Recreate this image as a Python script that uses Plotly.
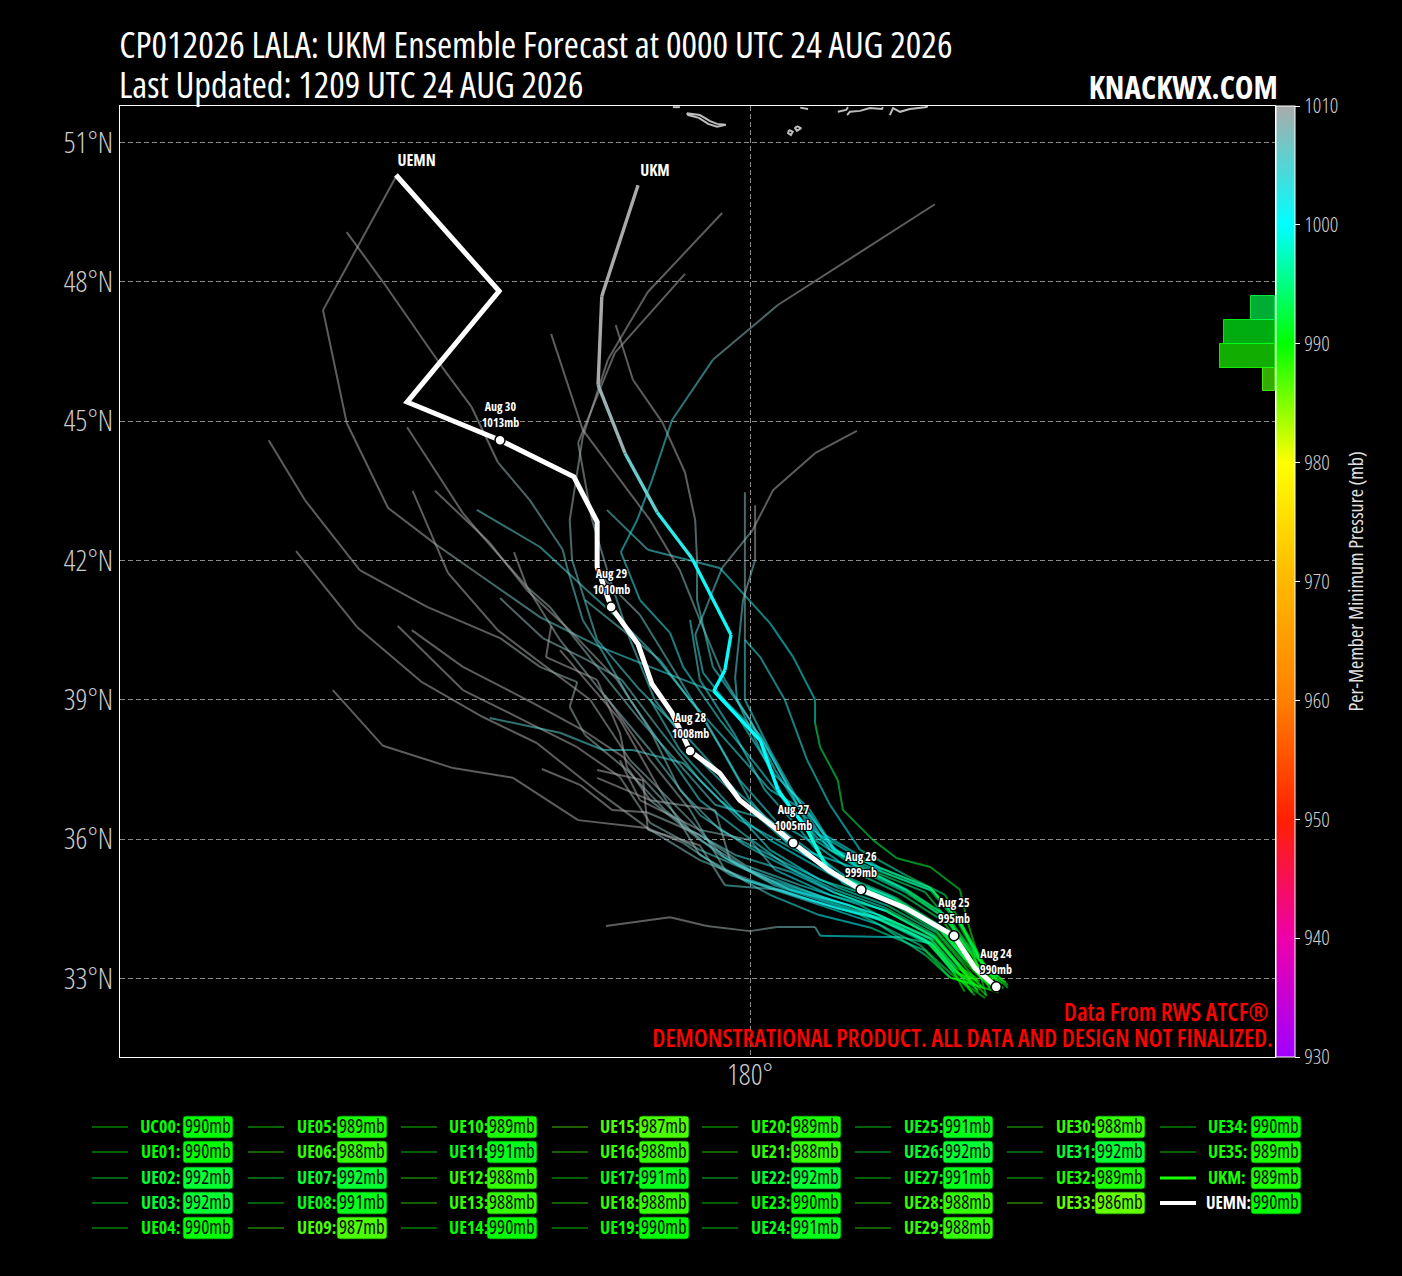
import re
import numpy as np
import plotly.graph_objects as go
from plotly.colors import sample_colorscale

FONT = "Open Sans"
W, H = 1402, 1276
L, R, T, B = 120, 1275, 106, 1057
LON_RANGE = [166.44, 191.30]
LAT_RANGE = [31.31, 51.785]

LAT_TICKS = [33, 36, 39, 42, 45, 48, 51]
LAT_TEXT = ["33°N", "36°N", "39°N", "42°N", "45°N", "48°N", "51°N"]
LON_TICKS = [180]
LON_TEXT = ["180°"]
CBAR_TICKS = [930, 940, 950, 960, 970, 980, 990, 1000, 1010]
MB_MIN, MB_MAX = 930, 1010
COLORS = ["#a000ff", "#ee00aa", "#ff2000", "#ff8000", "#ffb800", "#ffff00", "#00ff00", "#00ffff", "#aaaaaa"]

NAMES = ["UC00"] + [f"UE{i:02d}" for i in range(1, 36)]
MIN_MB = [990, 990, 992, 992, 990, 989, 988, 992, 991, 987, 989, 991, 988, 988, 990, 987, 988, 991,
          988, 990, 989, 988, 992, 990, 991, 991, 992, 991, 988, 988, 988, 992, 989, 986, 990, 989]

# each track: (lon, lat, mb), from the last forecast point back to the first
UC00 = [(172.40,50.30,1012),(170.81,47.39,1011),(171.32,44.96,1011),(172.21,43.13,1010),(173.26,42.33,1010),(174.25,41.64,1008),(175.48,40.78,1006),(176.77,40.14,1004),(177.85,39.71,1004),(179.29,39.15,1003),(180.22,38.24,1003),(180.86,37.06,1002),(181.40,35.98,1001),(182.26,35.42,998),(183.34,34.90,995),(184.20,34.30,993),(184.78,33.51,992),(185.17,32.80,990)]
UE01 = [(171.32,49.07,1012),(172.10,48.00,1012),(173.37,46.17,1011),(174.01,45.30,1010),(174.57,44.12,1009),(175.26,43.30,1008),(175.97,42.23,1006),(176.06,41.86,1006),(176.40,40.72,1005),(176.84,40.01,1005),(177.42,39.00,1004),(178.17,37.92,1004),(178.92,36.84,1004),(179.89,36.09,1003),(180.86,35.38,1002),(181.83,34.91,1000),(182.91,34.52,997),(183.98,33.94,994),(184.52,33.29,992),(184.91,32.71,990)]
UE02 = [(169.64,44.59,1012),(170.42,43.30,1012),(171.60,41.79,1011),(173.05,41.00,1010),(174.62,40.33,1010),(175.48,39.71,1009),(176.28,39.38,1009),(176.12,38.85,1009),(176.45,38.24,1009),(177.35,37.49,1009),(178.17,36.63,1008),(179.35,35.66,1005),(180.43,35.08,1002),(181.61,34.69,1000),(182.80,34.30,998),(183.88,33.79,995),(184.41,33.18,993),(184.84,32.86,992)]
UE03 = [(172.62,44.87,1012),(173.82,43.02,1011),(174.25,42.51,1010),(175.20,41.43,1009),(175.69,41.00,1009),(176.77,39.64,1008),(177.63,38.57,1007),(178.49,37.60,1006),(179.25,36.74,1005),(180.43,36.41,1003),(181.18,35.66,1001),(182.05,35.12,999),(183.12,34.69,996),(184.09,34.09,994),(184.63,33.44,993),(185.06,32.92,992)]
UE04 = [(172.74,43.50,1012),(173.22,42.38,1011),(173.50,41.73,1011),(174.57,40.50,1011),(175.41,39.86,1010),(176.56,39.00,1010),(177.42,37.70,1009),(178.71,36.41,1008),(179.45,35.60,1006),(180.50,35.02,1003),(181.70,34.62,1001),(182.85,34.25,998),(183.95,33.72,995),(184.48,33.12,992),(184.95,32.80,990)]
UE05 = [(173.22,43.50,1012),(174.40,42.38,1011),(175.20,41.36,1010),(176.12,40.50,1010),(177.14,39.43,1009),(177.85,38.35,1008),(178.49,37.06,1007),(179.35,36.20,1005),(180.86,35.44,1002),(181.90,34.95,1000),(182.98,34.56,997),(184.02,33.98,994),(184.58,33.32,991),(185.02,32.78,989)]
UE06 = [(174.12,43.09,1006),(175.48,42.29,1005),(176.49,41.36,1005),(177.20,40.72,1004),(177.85,40.07,1004),(178.71,39.00,1003),(179.57,38.03,1003),(180.43,37.06,1002),(181.29,36.55,1002),(181.83,35.72,1000),(182.80,35.30,997),(183.88,34.90,995),(184.48,34.20,992),(184.95,33.35,990),(185.50,32.92,988)]
UE07 = [(170.23,42.20,1012),(171.54,40.57,1012),(172.94,39.38,1011),(174.25,38.63,1011),(175.41,38.07,1010),(176.77,36.99,1010),(177.85,36.20,1009),(178.92,35.55,1007),(180.00,35.12,1005),(181.29,34.69,1002),(182.80,34.26,998),(183.77,33.83,995),(184.41,33.14,993),(184.91,32.75,992)]
UE08 = [(172.42,40.59,1012),(173.82,39.21,1011),(175.11,38.57,1011),(176.28,37.98,1010),(177.20,37.34,1010),(177.85,36.35,1009),(178.92,35.77,1007),(180.43,35.12,1003),(181.61,34.74,1001),(182.80,34.36,998),(183.90,33.85,995),(184.44,33.24,993),(184.88,32.95,991)]
UE09 = [(172.72,40.50,1012),(173.82,39.71,1011),(175.33,38.93,1011),(176.40,38.35,1010),(177.27,37.77,1010),(177.78,37.21,1009),(178.71,36.20,1008),(179.68,35.66,1005),(180.86,35.30,1002),(181.83,34.84,1000),(182.91,34.46,997),(183.98,33.88,994),(184.52,33.22,991),(185.10,32.62,987)]
UE10 = [(171.02,39.21,1013),(172.10,38.01,1012),(173.61,37.53,1011),(174.90,37.32,1011),(176.30,36.41,1010),(177.78,36.24,1010),(178.56,35.92,1008),(179.57,35.23,1006),(181.08,34.75,1002),(182.37,34.37,999),(183.66,33.72,995),(184.35,33.08,992),(185.06,32.58,989)]
UE11 = [(174.62,41.19,1009),(175.54,40.33,1008),(176.49,39.86,1008),(177.24,39.43,1007),(178.06,38.35,1006),(178.92,37.27,1005),(179.78,36.41,1003),(181.10,35.70,1001),(182.00,35.18,999),(183.05,34.74,996),(184.02,34.14,994),(184.58,33.50,992),(185.00,33.02,991)]
UE12 = [(174.92,42.18,1011),(175.20,41.43,1010),(175.91,40.29,1009),(176.77,39.21,1008),(177.85,37.92,1007),(178.92,36.52,1005),(179.89,35.87,1004),(181.83,34.85,1000),(182.91,34.46,997),(183.98,33.88,994),(184.55,33.25,991),(184.98,32.82,988)]
UE13 = [(175.72,40.59,1012),(175.61,39.92,1012),(176.71,39.43,1011),(177.20,38.29,1010),(177.35,37.55,1010),(177.85,36.84,1009),(178.92,35.98,1007),(180.00,35.34,1005),(181.61,34.74,1001),(182.80,34.36,998),(183.88,33.85,995),(184.41,33.24,992),(184.78,32.70,988)]
UE14 = [(174.40,38.61,1006),(175.91,38.29,1005),(176.84,37.92,1005),(177.48,37.92,1004),(178.56,37.64,1004),(179.35,36.84,1003),(180.43,35.98,1002),(182.05,35.06,999),(183.12,34.64,996),(184.09,34.04,994),(184.63,33.40,992),(185.12,32.86,990)]
UE15 = [(175.52,37.51,1012),(176.34,37.17,1011),(177.03,36.63,1011),(177.78,36.58,1010),(178.92,36.09,1008),(179.89,35.44,1006),(181.08,35.01,1003),(182.37,34.58,999),(183.92,33.74,995),(184.45,33.12,991),(184.95,32.95,987)]
UE16 = [(176.71,37.49,1012),(177.70,37.27,1011),(177.80,36.20,1011),(178.92,35.87,1009),(179.46,35.01,1007),(180.65,34.91,1004),(181.83,34.52,1000),(183.01,34.26,997),(183.98,33.84,994),(184.55,33.22,991),(184.90,33.00,988)]
UE17 = [(176.90,34.13,1011),(178.28,34.32,1011),(179.07,34.13,1010),(180.00,34.02,1009),(180.58,34.11,1008),(181.40,34.11,1006),(181.51,33.92,1003),(183.23,33.89,998),(183.88,33.76,995),(184.41,33.08,992),(184.84,32.64,991)]
UE18 = [(176.92,43.09,1006),(177.80,42.23,1005),(179.35,41.84,1003),(180.43,40.65,1002),(180.93,39.92,1001),(181.40,39.00,1001),(181.40,38.50,995),(181.51,37.98,994),(181.89,37.27,993),(182.00,36.63,993),(182.65,35.98,993),(183.16,35.59,993),(183.88,35.40,992),(184.52,34.91,992),(184.67,34.26,991),(184.89,33.55,990),(185.23,32.97,988)]
UE19 = [(177.11,47.07,1012),(177.48,45.89,1011),(178.11,44.98,1011),(178.60,43.90,1010),(178.82,42.87,1009),(178.86,42.01,1008),(178.86,41.15,1005),(179.20,39.71,1003),(180.00,38.57,1002),(180.54,37.49,1002),(181.08,36.63,1001),(181.72,35.77,999),(182.69,35.29,996),(183.77,34.86,994),(184.35,34.15,992),(184.78,33.40,991),(185.38,32.90,990)]
UE20 = [(179.40,49.48,1012),(177.80,47.78,1012),(176.94,46.32,1011),(176.40,44.66,1010),(176.12,42.87,1009),(176.17,42.01,1007),(176.71,40.29,1005),(177.63,39.21,1004),(178.71,38.13,1004),(179.68,37.06,1003),(180.54,36.30,1002),(182.05,35.20,999),(183.12,34.75,996),(184.09,34.14,994),(184.63,33.48,991),(185.22,32.82,989)]
UE21 = [(178.60,48.17,1012),(177.09,46.47,1011),(176.30,44.53,1010),(176.60,42.87,1009),(176.99,41.58,1007),(177.42,40.29,1005),(177.95,39.00,1004),(178.92,37.70,1004),(180.00,36.63,1003),(180.86,35.87,1002),(182.26,35.38,998),(183.34,34.86,996),(184.20,34.30,994),(184.78,33.51,991),(185.17,32.75,988)]
UE22 = [(175.72,46.88,1012),(176.40,44.81,1011),(177.85,42.87,1010),(178.49,41.79,1009),(178.92,40.72,1007),(179.46,39.43,1005),(180.32,38.03,1003),(180.86,37.06,1002),(181.61,36.09,1001),(182.80,35.38,998),(183.88,34.95,995),(184.48,34.26,993),(184.95,33.40,992),(185.33,33.05,992)]
UE23 = [(183.98,49.67,1012),(180.60,47.50,1010),(179.20,46.32,1006),(178.32,45.02,1004),(177.89,43.73,1003),(177.57,42.87,1003),(177.22,42.18,1003),(177.63,41.15,1003),(178.28,40.44,1003),(178.56,39.71,1003),(179.35,38.57,1003),(180.22,37.49,1002),(180.97,36.52,1002),(182.26,35.44,998),(183.34,34.92,996),(184.20,34.36,994),(184.78,33.56,992),(185.42,32.88,990)]
UE24 = [(182.30,44.79,1012),(181.40,44.31,1011),(180.50,43.52,1011),(180.06,42.66,1010),(179.40,41.84,1007),(178.82,40.40,1004),(178.99,39.58,1003),(179.78,38.57,1003),(180.54,37.38,1002),(181.29,36.63,1002),(181.83,35.77,1000),(182.80,35.38,997),(183.88,34.95,995),(184.48,34.26,993),(184.95,33.40,992),(185.45,32.78,991)]
UE25 = [(179.89,43.47,1011),(179.89,40.29,1005),(179.89,39.00,1003),(180.43,37.92,1002),(180.97,36.95,1002),(181.51,36.09,1001),(182.85,35.30,998),(183.95,34.88,995),(184.55,34.18,993),(185.00,33.32,992),(185.55,32.80,991)]
UE26 = [(180.11,43.19,1011),(180.11,42.01,1009),(179.85,41.15,1006),(179.68,39.49,1004),(179.72,39.00,1003),(180.22,37.92,1003),(180.75,36.84,1002),(181.45,36.02,1001),(182.30,35.44,998),(183.40,34.90,996),(184.25,34.34,994),(184.82,33.55,993),(185.08,32.65,992)]
UE27 = [(179.89,40.29,1003),(180.22,39.92,1003),(180.75,39.00,1003),(181.23,37.70,1002),(181.72,36.74,1001),(182.37,35.77,999),(183.34,35.23,996),(184.20,34.80,994),(184.63,34.04,993),(185.06,33.29,992),(185.55,32.86,991)]
UE28 = [(176.71,37.32,1011),(177.85,36.84,1010),(179.25,36.63,1009),(179.57,35.55,1007),(180.86,34.91,1003),(182.15,34.58,999),(183.85,33.74,995),(184.38,33.14,992),(184.62,32.72,988)]
UE29 = [(177.20,37.70,1011),(177.63,36.84,1010),(178.92,36.20,1009),(180.00,35.98,1007),(180.54,35.34,1003),(181.72,34.80,1000),(182.91,34.47,997),(183.98,33.90,994),(184.50,33.26,991),(184.75,32.90,988)]
UE30 = [(178.71,40.72,1005),(178.92,39.43,1004),(179.68,38.24,1003),(180.32,37.06,1002),(181.08,36.20,1002),(182.00,35.05,999),(183.05,34.62,996),(184.02,34.02,994),(184.58,33.38,991),(185.00,32.98,988)]
UE31 = [(177.85,39.00,1004),(178.49,37.92,1004),(179.46,36.84,1003),(180.43,35.77,1002),(181.51,35.12,1000),(183.12,34.62,996),(184.09,34.03,994),(184.63,33.40,993),(185.28,33.02,992)]
UE32 = [(175.91,40.07,1012),(177.20,38.57,1011),(178.06,37.06,1009),(178.92,35.66,1007),(179.89,35.12,1005),(181.51,34.58,1001),(182.80,34.15,998),(183.77,33.51,995),(184.30,33.02,992),(184.70,32.90,989)]
UE33 = [(176.45,41.15,1007),(178.06,39.86,1005),(179.03,38.57,1003),(179.78,37.27,1003),(180.54,36.41,1002),(181.35,35.92,1001),(182.20,35.32,998),(183.28,34.80,995),(184.15,34.24,993),(184.72,33.46,990),(185.12,32.98,986)]
UE34 = [(176.88,39.10,1011),(177.85,37.70,1010),(178.71,36.63,1008),(179.46,35.34,1006),(180.43,34.80,1004),(181.45,34.38,1001),(182.58,34.10,999),(183.77,33.60,995),(184.31,33.02,992),(185.35,32.70,990)]
UE35 = [(176.77,41.69,1009),(177.63,40.83,1007),(178.49,39.43,1005),(179.35,38.00,1004),(180.00,36.84,1003),(180.75,35.98,1002),(182.05,35.15,999),(183.12,34.72,996),(184.09,34.12,994),(184.63,33.46,991),(185.18,33.00,989)]
TRACKS = [UC00, UE01, UE02, UE03, UE04, UE05, UE06, UE07, UE08, UE09, UE10, UE11, UE12, UE13, UE14,
          UE15, UE16, UE17, UE18, UE19, UE20, UE21, UE22, UE23, UE24, UE25, UE26, UE27, UE28, UE29,
          UE30, UE31, UE32, UE33, UE34, UE35]

UKM = [(177.59,50.08,1012),(176.81,47.69,1011),(176.73,45.78,1010),(177.31,44.31,1008),(178.00,43.04,1004),(178.75,42.05,1001),(179.59,40.40,1001),(179.46,39.64,1000),(179.22,39.19,1000),(180.22,38.13,1000),(180.60,37.06,1000),(181.23,36.20,999),(181.68,35.34,998),(182.39,34.95,996),(183.34,34.52,994),(184.39,33.92,992),(184.84,33.23,990),(185.30,32.82,989)]
UKM_MIN = 989

UEMN_LON = [172.38,174.60,172.62,174.62,176.21,176.71,176.71,177.01,177.59,177.89,178.32,178.71,179.35,179.78,180.54,180.93,181.72,182.39,183.34,184.39,184.84,185.30]
UEMN_LAT = [50.30,47.80,45.41,44.59,43.80,42.83,41.86,41.00,40.20,39.34,38.72,37.90,37.42,36.84,36.24,35.92,35.31,34.91,34.52,33.92,33.23,32.82]
UEMN_MIN = 990

DAY_LON = [185.30, 184.39, 182.39, 180.93, 178.71, 177.01, 174.62]
DAY_LAT = [32.82, 33.92, 34.91, 35.92, 37.90, 41.00, 44.59]
DAY_NAME = ["Aug 24", "Aug 25", "Aug 26", "Aug 27", "Aug 28", "Aug 29", "Aug 30"]
DAY_MB = [990, 995, 999, 1005, 1008, 1010, 1013]

HIST_EDGES = [986, 988, 990, 992, 994]

ISLANDS = [
    [(178.64,51.63),(178.92,51.59),(179.14,51.46),(179.29,51.40),(179.48,51.38),(179.29,51.34),(179.10,51.40),(178.90,51.53),(178.67,51.59),(178.64,51.63)],
    [(180.84,51.27),(180.92,51.23),(180.88,51.16),(180.82,51.20),(180.84,51.27)],
    [(181.01,51.35),(181.10,51.31),(181.01,51.25),(180.97,51.31),(181.01,51.35)],
    [(181.89,51.66),(182.07,51.70),(182.11,51.76)],
    [(182.09,51.59),(182.15,51.66),(182.37,51.68),(182.58,51.74),(182.84,51.72),(182.86,51.76)],
    [(183.01,51.59),(183.08,51.74),(183.23,51.66),(183.44,51.72),(183.77,51.76),(183.83,51.78)],
    [(178.34,51.76),(178.49,51.76)],
    [(181.08,51.75),(181.25,51.72)],
]

SCALE = [[(v - MB_MIN) / (MB_MAX - MB_MIN), c] for v, c in zip(CBAR_TICKS, COLORS)]


def mb_color(mb, alpha=1.0):
    t = min(max((mb - MB_MIN) / (MB_MAX - MB_MIN), 0), 1)
    r, g, b = [float(v) for v in re.findall(r"[\d.]+", sample_colorscale(SCALE, [t])[0])[:3]]
    return f"rgba({r:.0f},{g:.0f},{b:.0f},{alpha})"


def px(x):
    return (x - L) / (R - L)


def py(y):
    return (B - y) / (B - T)


fig = go.Figure()

for isl in ISLANDS:
    fig.add_trace(go.Scatter(x=[p[0] for p in isl], y=[p[1] for p in isl], mode="lines",
                             line=dict(color="#bdbdbd", width=2), hoverinfo="skip", showlegend=False))

counts, _ = np.histogram(MIN_MB, bins=HIST_EDGES)
centres = [(a + b) / 2 for a, b in zip(HIST_EDGES[:-1], HIST_EDGES[1:])]
fig.add_trace(go.Bar(x=counts, y=centres, width=2, orientation="h", xaxis="x2", yaxis="y2",
                     marker=dict(color=[mb_color(c, 0.68) for c in centres],
                                 line=dict(color=[mb_color(c, 0.85) for c in centres], width=1)),
                     hoverinfo="skip", showlegend=False))

for track in TRACKS:
    for a, b in zip(track[:-1], track[1:]):
        fig.add_trace(go.Scatter(x=[a[0], b[0]], y=[a[1], b[1]], mode="lines",
                                 line=dict(color=mb_color((a[2] + b[2]) / 2, 0.55), width=2),
                                 hoverinfo="skip", showlegend=False))

for a, b in zip(UKM[:-1], UKM[1:]):
    fig.add_trace(go.Scatter(x=[a[0], b[0]], y=[a[1], b[1]], mode="lines",
                             line=dict(color=mb_color((a[2] + b[2]) / 2, 1), width=3.4),
                             hoverinfo="skip", showlegend=False))

fig.add_trace(go.Scatter(x=UEMN_LON, y=UEMN_LAT, mode="lines", line=dict(color="white", width=5),
                         hoverinfo="skip", showlegend=False))
fig.add_trace(go.Scatter(x=DAY_LON, y=DAY_LAT, mode="markers",
                         marker=dict(color="white", size=10, line=dict(color="black", width=1.5)),
                         hoverinfo="skip", showlegend=False))

fig.add_trace(go.Scatter(x=[t[-1][0] for t in TRACKS], y=[t[-1][1] for t in TRACKS], mode="markers",
                         marker=dict(size=1, opacity=0, color=MIN_MB, cmin=MB_MIN, cmax=MB_MAX, colorscale=SCALE,
                                     showscale=True,
                                     colorbar=dict(x=px(1276), xanchor="left", xpad=0, y=0.5, yanchor="middle",
                                                   len=1, ypad=0, thickness=19, outlinecolor="white", outlinewidth=1,
                                                   tickvals=CBAR_TICKS, ticks="outside", ticklen=5, tickcolor="white",
                                                   tickfont=dict(family=FONT, size=21, color="#d0d0d0", weight=300))),
                         hoverinfo="skip", showlegend=False))

ann = []
shapes = []


def text(cx, cy, s, size, color="white", weight=400):
    """Text centred on a pixel position of the page."""
    ann.append(dict(x=px(cx), y=py(cy), xref="paper", yref="paper", text=s, showarrow=False,
                    xanchor="center", yanchor="middle",
                    font=dict(family=FONT, size=size, color=color, weight=weight)))


text(536, 44, "CP012026 LALA: UKM Ensemble Forecast at 0000 UTC 24 AUG 2026", 36.6)
text(351, 84, "Last Updated: 1209 UTC 24 AUG 2026", 36.4)
text(1183, 87, "KNACKWX.COM", 31.5, weight=700)
text(1165.5, 1011, "Data From RWS ATCF®", 24.5, color="#ff0000", weight=600)
text(962.5, 1037, "DEMONSTRATIONAL PRODUCT. ALL DATA AND DESIGN NOT FINALIZED.", 24.5, color="#ff0000", weight=600)

ann.append(dict(x=px(1355), y=py(582), xref="paper", yref="paper", text="Per-Member Minimum Pressure (mb)",
                textangle=-90, showarrow=False, xanchor="center", yanchor="middle",
                font=dict(family=FONT, size=20, color="#e0e0e0")))

SHADOW = "-1px -1px 0 #000, 1px -1px 0 #000, -1px 1px 0 #000, 1px 1px 0 #000"
for lon, lat, name, mb in zip(DAY_LON, DAY_LAT, DAY_NAME, DAY_MB):
    ann.append(dict(x=lon, y=lat, xref="x", yref="y", text=f"{name}<br>{mb}mb", showarrow=False,
                    yanchor="bottom", yshift=7, font=dict(family=FONT, size=12, color="white", weight=700, shadow=SHADOW)))

ann.append(dict(x=UEMN_LON[0], y=UEMN_LAT[0], xref="x", yref="y", text="UEMN", showarrow=False,
                xanchor="center", xshift=21, yanchor="bottom", yshift=2, font=dict(family=FONT, size=16, color="white", weight=700)))
ann.append(dict(x=UKM[0][0], y=UKM[0][1], xref="x", yref="y", text="UKM", showarrow=False,
                xanchor="center", xshift=17, yanchor="bottom", yshift=2, font=dict(family=FONT, size=16, color="white", weight=700)))

LINE_X = [92, 248, 401, 552, 702, 855, 1007, 1160]
LABEL_X = [140, 296, 448, 599, 750, 903, 1055, 1207]
BOX_X = [183, 337, 487, 639, 791, 943, 1095, 1251]
ROW_Y = [1127, 1152, 1178, 1203, 1228]
LEG_NAMES = NAMES + ["UKM", "UEMN"]
LEG_MB = MIN_MB + [UKM_MIN, UEMN_MIN]
SLOTS = [(c, r) for c in range(6) for r in range(5)] + [(6, r) for r in range(4)] + [(7, r) for r in range(4)]


def rounded(x0, y0, x1, y1, rad=3):
    return (f"M {px(x0 + rad)} {py(y0)} L {px(x1 - rad)} {py(y0)} Q {px(x1)} {py(y0)} {px(x1)} {py(y0 + rad)} "
            f"L {px(x1)} {py(y1 - rad)} Q {px(x1)} {py(y1)} {px(x1 - rad)} {py(y1)} "
            f"L {px(x0 + rad)} {py(y1)} Q {px(x0)} {py(y1)} {px(x0)} {py(y1 - rad)} "
            f"L {px(x0)} {py(y0 + rad)} Q {px(x0)} {py(y0)} {px(x0 + rad)} {py(y0)} Z")


for name, mb, (c, r) in zip(LEG_NAMES, LEG_MB, SLOTS):
    y = ROW_Y[r]
    if name == "UKM":
        lc, lw = mb_color(mb), 3
    elif name == "UEMN":
        lc, lw = "white", 4
    else:
        lc, lw = mb_color(mb, 0.5), 1.7
    shapes.append(dict(type="line", xref="paper", yref="paper", x0=px(LINE_X[c]), x1=px(LINE_X[c] + 36), y0=py(y), y1=py(y),
                       line=dict(color=lc, width=lw)))
    wide = name == "UEMN"
    text(LABEL_X[c] + (21 if wide else 20), y - 1, f"{name}:", 17 if wide else 18, color="white" if wide else mb_color(mb), weight=700)
    shapes.append(dict(type="path", xref="paper", yref="paper", path=rounded(BOX_X[c], y - 11, BOX_X[c] + 50, y + 11),
                       fillcolor=mb_color(mb), line=dict(color="rgba(0,90,0,0.8)", width=1)))
    text(BOX_X[c] + 25, y - 1, f"{mb}mb", 19, color="#0a0a0a", weight=500)

axis_common = dict(showline=True, linecolor="white", linewidth=1, mirror=True, ticks="",
                   tickfont=dict(family=FONT, size=29, color="#cccccc", weight=300),
                   showgrid=True, gridcolor="#8c8c8c", gridwidth=1, griddash="5px,3px", zeroline=False)

fig.update_layout(
    width=W, height=H, autosize=False,
    margin=dict(l=L, r=W - R, t=T, b=H - B, pad=0),
    paper_bgcolor="black", plot_bgcolor="black",
    xaxis=dict(range=LON_RANGE, tickvals=LON_TICKS, ticktext=LON_TEXT, ticklabelstandoff=-8, **axis_common),
    yaxis=dict(range=LAT_RANGE, tickvals=LAT_TICKS, ticktext=LAT_TEXT, **axis_common),
    xaxis2=dict(overlaying="x", range=[294, 0], visible=False),
    yaxis2=dict(overlaying="y", range=[MB_MIN, MB_MAX], visible=False),
    annotations=ann, shapes=shapes, showlegend=False, bargap=0,
)

PAGE_CSS = ("var s=document.createElement('style');"
            "s.textContent='svg text{font-stretch:75% !important}';"
            "document.head.appendChild(s);"
            "document.body.style.margin='0';document.body.style.background='black';")
fig.write_html("out.html", post_script=PAGE_CSS, config=dict(displayModeBar=False))
